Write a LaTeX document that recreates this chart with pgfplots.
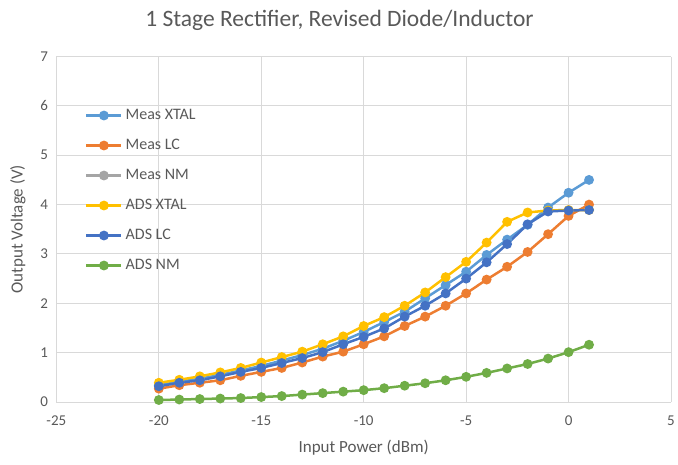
\documentclass[border=0pt]{standalone}
\usepackage{fontspec}
\setmainfont{Carlito}
\usepackage{pgfplots}
\pgfplotsset{compat=1.18}
\definecolor{cMX}{HTML}{5B9BD5}
\definecolor{cML}{HTML}{ED7D31}
\definecolor{cMN}{HTML}{A5A5A5}
\definecolor{cAX}{HTML}{FFC000}
\definecolor{cAL}{HTML}{4472C4}
\definecolor{cAN}{HTML}{70AD47}
\definecolor{txt}{HTML}{595959}
\definecolor{grd}{HTML}{D9D9D9}
\begin{document}
\begin{tikzpicture}
\useasboundingbox (-56.4pt,-62pt) rectangle (621.6pt,402pt);
\begin{axis}[
  scale only axis, width=614.6pt, height=345.5pt,
  xmin=-25, xmax=5, ymin=0, ymax=7,
  xtick={-25,-20,...,5}, ytick={0,...,7},
  grid=major, major grid style={grd, line width=0.9pt},
  axis line style={draw=none},
  major tick length=0pt,
  /pgf/number format/assume math mode=true,
  tick label style={font=\fontsize{15}{18}\selectfont, text=txt},
  xticklabel style={yshift=-10pt},
  yticklabel style={xshift=-5pt},
  xlabel={Input Power (dBm)}, ylabel={Output Voltage (V)},
  label style={font=\fontsize{17}{20}\selectfont, text=txt},
  xlabel style={at={(0.5,0)}, anchor=center, yshift=-46pt},
  ylabel style={at={(-0.0625,0.5)}, anchor=center},
  title={1 Stage Rectifier, Revised Diode/Inductor},
  title style={font=\fontsize{23.5}{28}\selectfont, text=txt, at={(0.4606,1)}, anchor=base, yshift=24pt},
  every axis plot/.append style={line width=2.5pt, mark=*, mark size=3.6pt, mark options={solid}},
  legend style={draw=none, fill=none, at={(0.0465,0.850)}, anchor=north west,
    inner sep=0pt, row sep=16pt, column sep=3pt,
    font=\fontsize{16}{19}\selectfont, text=txt,
    nodes={inner sep=0pt, text height=11pt, text depth=3pt, anchor=west}},
  legend cell align=left,
  legend image code/.code={\draw[mark repeat=2, mark phase=2, #1] plot coordinates {(0pt,0pt) (17.5pt,0pt) (35pt,0pt)};},
]
\addplot[cMX, mark options={fill=cMX}] coordinates {
(-20,0.34) (-19,0.41) (-18,0.47) (-17,0.55) (-16,0.64) (-15,0.73) (-14,0.84) (-13,0.95) (-12,1.08) (-11,1.24) (-10,1.42)
(-9,1.62) (-8,1.83) (-7,2.10) (-6,2.37) (-5,2.64) (-4,2.98) (-3,3.29) (-2,3.59) (-1,3.94) (0,4.24) (1,4.50)};
\addlegendentry{Meas XTAL}
\addplot[cML, mark options={fill=cML}] coordinates {
(-20,0.27) (-19,0.34) (-18,0.39) (-17,0.44) (-16,0.53) (-15,0.61) (-14,0.69) (-13,0.80) (-12,0.92) (-11,1.02) (-10,1.17)
(-9,1.33) (-8,1.54) (-7,1.73) (-6,1.95) (-5,2.20) (-4,2.48) (-3,2.74) (-2,3.04) (-1,3.40) (0,3.77) (1,4.00)};
\addlegendentry{Meas LC}
\addlegendimage{cMN, line width=2.5pt, mark=*, mark size=3.6pt, mark options={fill=cMN}}
\addlegendentry{Meas NM}
\addplot[cAX, mark options={fill=cAX}] coordinates {
(-20,0.39) (-19,0.45) (-18,0.52) (-17,0.60) (-16,0.69) (-15,0.80) (-14,0.91) (-13,1.02) (-12,1.17) (-11,1.33) (-10,1.54)
(-9,1.72) (-8,1.95) (-7,2.22) (-6,2.53) (-5,2.84) (-4,3.23) (-3,3.65) (-2,3.84) (-1,3.88) (0,3.89) (1,3.89)};
\addlegendentry{ADS XTAL}
\addplot[cAL, mark options={fill=cAL}] coordinates {
(-20,0.32) (-19,0.39) (-18,0.44) (-17,0.52) (-16,0.61) (-15,0.69) (-14,0.79) (-13,0.89) (-12,1.01) (-11,1.17) (-10,1.32)
(-9,1.49) (-8,1.73) (-7,1.95) (-6,2.20) (-5,2.50) (-4,2.83) (-3,3.20) (-2,3.60) (-1,3.86) (0,3.88) (1,3.89)};
\addlegendentry{ADS LC}
\addplot[cAN, mark options={fill=cAN}] coordinates {
(-20,0.04) (-19,0.05) (-18,0.06) (-17,0.07) (-16,0.08) (-15,0.10) (-14,0.12) (-13,0.15) (-12,0.18) (-11,0.21) (-10,0.24)
(-9,0.28) (-8,0.33) (-7,0.38) (-6,0.44) (-5,0.51) (-4,0.59) (-3,0.68) (-2,0.77) (-1,0.88) (0,1.01) (1,1.16)};
\addlegendentry{ADS NM}
\end{axis}
\end{tikzpicture}
\end{document}
